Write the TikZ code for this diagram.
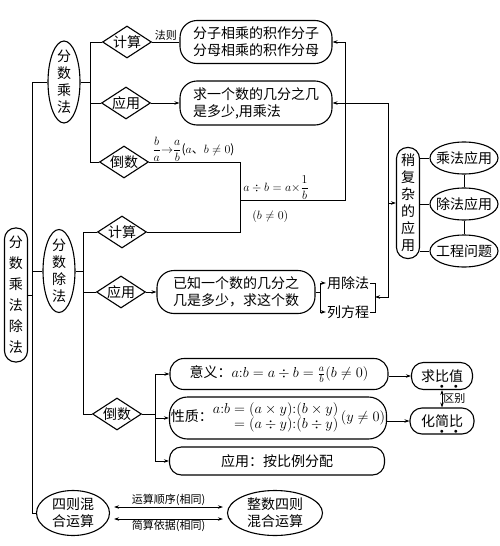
\documentclass[tikz,border=0pt]{standalone}
\usepackage{amsmath}
\usepackage{fontspec}
\setmainfont{Noto Sans CJK SC}
\usepackage{tikz}
\usetikzlibrary{calc}
\usetikzlibrary{shapes.geometric}
\usetikzlibrary{arrows.meta}
\usetikzlibrary{positioning}
\newcommand{\zdot}[1]{\rlap{\makebox[1em]{\raisebox{-7pt}[0pt][0pt]{$\scriptscriptstyle\bullet$}}}#1}
\newcommand{\sfrac}[2]{$\dfrac{#1}{#2}$}
\tikzset{
    topic/.style={
           ellipse,
           draw=black, line width=1.1pt,
           inner sep=0pt,
           align=center,
           },
    choice/.style={
           diamond, aspect=1.5,
           draw=black, line width=1.1pt,
           minimum width=49pt, minimum height=32pt,
           inner sep=0pt,
           },
    rule/.style={
           rectangle, rounded corners=#1,
           draw=black, line width=1.1pt,
           inner sep=0pt,
           align=left,
           },
    rule/.default=17pt,
    pillar/.style={
           rectangle, rounded corners=11pt,
           draw=black, line width=1.1pt,
           minimum width=23pt,
           inner sep=0pt,
           align=center,
           },
    note/.style={font=\fontsize{11}{13}\selectfont, inner sep=1pt},
    formula/.style={font=\fontsize{12}{14}\selectfont, inner sep=0pt},
    link/.style={line width=0.8pt},
    tip/.style={line width=0.8pt, -{Stealth[length=5pt,width=3.5pt]}},
    both/.style={line width=0.8pt, {Stealth[length=5pt,width=3.5pt]}-{Stealth[length=5pt,width=3.5pt]}},
}

\begin{document}
\begin{tikzpicture}[x=1pt, y=-1pt, font=\fontsize{14}{17}\selectfont]
    \useasboundingbox (0,0) rectangle (500,546);
    % vertical bus lines
    \coordinate (busA) at (32,0);
    \coordinate (busB) at (90,0);
    \coordinate (busC) at (83,0);
    \coordinate (busD) at (155,0);
    \coordinate (busE) at (240,0);
    \coordinate (busF) at (345,0);
    \coordinate (busG) at (388,0);
    \coordinate (busH) at (320,0);
    \coordinate (busI) at (375,0);
    \coordinate (fm) at (0,200);
    \coordinate (brk) at (375,297);

    % left column
    \node[pillar, minimum height=134pt, font=\fontsize{14}{21}\selectfont] (main) at (16,295) {分\\数\\乘\\法\\除\\法};
    \node[topic, inner ysep=-9pt, minimum width=32pt, minimum height=82pt] (cf) at (64,82) {分\\数\\乘\\法};
    \node[topic, inner ysep=-9pt, minimum width=32pt, minimum height=83pt] (sz) at (59,271) {分\\数\\除\\法};
    \node[topic, minimum width=73pt, minimum height=45pt] (hh) at (73,513) {四则混\\合运算};
    \node[topic, minimum width=95pt, minimum height=45pt] (zs) at (275,513) {整数四则\\混合运算};

    % 分数乘法
    \node[choice] (js1) at (127,42)  {计算};
    \node[choice] (yy1) at (126,103) {应用};
    \node[choice] (ds1) at (124,162) {倒数};
    \node[rule, minimum width=152pt, minimum height=43pt] (fz) at (256,42) {分子相乘的积作分子\\分母相乘的积作分母};
    \node[rule, minimum width=152pt, minimum height=44pt] (qj) at (256,103) {求一个数的几分之几\\是多少,用乘法};

    % 分数除法
    \node[choice] (js2) at (122,232) {计算};
    \node[choice] (yy2) at (121,292) {应用};
    \node[choice] (ds2) at (117,414) {倒数};
    \node[rule, minimum width=158pt, minimum height=43pt] (yz) at (236,292) {已知一个数的几分之\\几是多少，求这个数};
    \node[inner sep=1pt] (ycf) at (348,283) {用除法};
    \node[inner sep=1pt] (lfc) at (348,312) {列方程};

    % 稍复杂的应用
    \node[pillar, minimum height=111pt] (sf) at (408,203) {稍\\复\\杂\\的\\应\\用};
    \node[topic, inner xsep=-6pt, minimum width=68pt, minimum height=32pt] (cy)  at (464,158) {乘法应用};
    \node[topic, inner xsep=-6pt, minimum width=68pt, minimum height=32pt] (cf2) at (464,204) {除法应用};
    \node[topic, inner xsep=-6pt, minimum width=68pt, minimum height=32pt] (gc)  at (464,251) {工程问题};

    % 比
    \node[rule=14pt, align=center, minimum width=218pt, minimum height=31pt] (yi) at (279,374)
        {意义：$a{:}b=a\div b=\frac{a}{b}(b\neq0)$};
    \node[rule=18pt, align=center, minimum width=217pt, minimum height=42pt] (xz) at (278,418)
        {性质：$\begin{aligned}a{:}b&=(a\times y){:}(b\times y)\\[-5pt]&=(a\div y){:}(b\div y)\end{aligned}\,(y\neq0)$};
    \node[rule=12pt, align=center, minimum width=215pt, minimum height=28pt] (yy3) at (277,461) {应用：按比例分配};
    \node[rule=12pt, align=center, minimum width=61pt, minimum height=27pt] (qbz) at (442,376) {求\zdot{比}\zdot{值}};
    \node[rule=12pt, align=center, minimum width=64pt, minimum height=26pt] (hjb) at (442,421) {化\zdot{简}\zdot{比}};

    % trunk
    \draw[link] (main.east) -- (main.east -| busA);
    \draw[link] (cf.west) -- (cf.west -| busA) -- (hh.west -| busA) -- (hh.west);
    \draw[link] (sz.west) -- (sz.west -| busA);

    % 分数乘法 lines
    \draw[link] (cf.east) -- (cf.east -| busB);
    \draw[link] (js1.west) -- (js1.west -| busB) -- (ds1.west -| busB) -- (ds1.west);
    \draw[link] (yy1.west) -- (yy1.west -| busB);
    \draw[link] (js1.east) -- node[note, above] {法则} (fz.west);
    \draw[tip] (yy1.east) -- (qj.west);
    \draw[link] (ds1.east) -- node[formula, above right, pos=0, xshift=3pt]
        {\sfrac{b}{a}$\to$\sfrac{a}{b}($a$、$b\neq0$)} (ds1.east -| busE) -- (js2.east -| busE) -- (js2.east);
    \draw[tip] (busE |- fm) -- node[formula, above right, pos=0, xshift=3pt] {$a\div b=a\times$\sfrac{1}{b}}
        node[formula, below right, pos=0, xshift=12pt, yshift=-10pt] {$(b\neq0)$}
        (busF |- fm) -- (busF |- fz.east) -- (fz.east);

    % 分数除法 lines
    \draw[link] (sz.east) -- (sz.east -| busC);
    \draw[link] (js2.west) -- (js2.west -| busC) -- (ds2.west -| busC) -- (ds2.west);
    \draw[link] (yy2.west) -- (yy2.west -| busC);
    \draw[tip] (yy2.east) -- (yz.west);
    \draw[link] (yz.east) -- (yz.east -| busH);
    \draw[link] (ycf.west -| busH) -- (lfc.west -| busH);
    \draw[tip] (ycf.west -| busH) -- (ycf.west);
    \draw[tip] (lfc.west -| busH) -- (lfc.west);
    \draw[link] (ycf.east) -- (ycf.east -| busI) -- (lfc.east -| busI) -- (lfc.east);

    % 稍复杂的应用 lines
    \draw[tip] (sf.west -| busG) -- (busG |- qj.east) -- (qj.east);
    \draw[tip] (sf.west -| busG) -- (sf.west);
    \draw[tip] (sf.west -| busG) -- (busG |- brk) -- (brk);
    \draw[link] (sf.east |- cy.west) -- (cy.west);
    \draw[link] (sf.east |- cf2.west) -- (cf2.west);
    \draw[link] (sf.east |- gc.west) -- (gc.west);
    \draw[link] (cy.south) -- (cf2.north);
    \draw[link] (cf2.south) -- (gc.north);

    % 比 lines
    \draw[link] (ds2.east) -- (ds2.east -| busD);
    \draw[link] (yi.west -| busD) -- (yy3.west -| busD);
    \draw[tip] (yi.west -| busD) -- (yi.west);
    \draw[tip] (xz.west -| busD) -- (xz.west);
    \draw[tip] (yy3.west -| busD) -- (yy3.west);
    \draw[tip] (yi.east |- qbz.west) -- (qbz.west);
    \draw[tip] (xz.east |- hjb.west) -- (hjb.west);
    \draw[both] (qbz.south) -- node[note, right] {区别} (hjb.north);

    % 四则混合运算
    \draw[both, shorten >=4pt, shorten <=4pt] ([yshift=6pt]hh.east) -- node[note, above] {运算顺序(相同)} ([yshift=6pt]zs.west);
    \draw[both, shorten >=4pt, shorten <=4pt] ([yshift=-6pt]hh.east) -- node[note, below] {简算依据(相同)} ([yshift=-6pt]zs.west);
\end{tikzpicture}
\end{document}
